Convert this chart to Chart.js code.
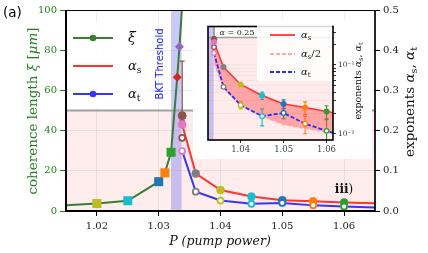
<!DOCTYPE html>
<html>
<head>
<meta charset="utf-8">
<script src="https://cdn.jsdelivr.net/npm/chart.js@4/dist/chart.umd.min.js"></script>
<style>
  body { margin: 0; background: #fff; }
  #wrap { position: relative; width: 428px; height: 253px; }
  #mainChart { position: absolute; left: 0; top: 0; }
  #insetChart { position: absolute; left: 193px; top: 20px; }
</style>
</head>
<body>
<div id="wrap">
  <canvas id="mainChart" width="428" height="253"></canvas>
  <canvas id="insetChart" width="179" height="139"></canvas>
</div>
<script>
// ---- data ----
const xTicks = [1.02, 1.03, 1.04, 1.05, 1.06];
const xiTicks = [0, 20, 40, 60, 80, 100];
const alphaTicks = [0, 0.1, 0.2, 0.3, 0.4, 0.5];
const insetXTicks = [1.04, 1.05, 1.06];
const insetYTicks = [0.01, 0.02, 0.03, 0.04, 0.05, 0.06, 0.07, 0.08, 0.09, 0.1, 0.2, 0.3];

// coherence length xi [um] vs pump power
const xiP = [1.010, 1.020, 1.025, 1.030, 1.031, 1.032, 1.0330, 1.03336, 1.0340];
const xiVal = [2.1, 3.7, 5.1, 14.6, 19.0, 29.2, 66.5, 81.7, 112];

// exponents alpha_s (filled) and alpha_t (open)
const aP = [1.0338, 1.036, 1.040, 1.045, 1.050, 1.055, 1.060, 1.066];
const alphaS = [0.215, 0.093, 0.052, 0.036, 0.027, 0.024, 0.021, 0.0186];
const alphaT = [0.149, 0.048, 0.026, 0.018, 0.020, 0.014, 0.011, 0.0085];
const alphaSErr = [0, 0, 0.002, 0.0045, 0.004, 0.005, 0.0045, 0];
const alphaTErr = [0, 0, 0.003, 0.005, 0.0035, 0.004, 0.005, 0];
const alphaSHalf = alphaS.map(v => v / 2);

// extra estimate right at threshold (brown)
const bP = [1.0338];
const bS = [0.237];
const bSErrUp = [0.136];
const bSErrDown = [0.012];
const bT = [0.182];

const bktBand = [1.032, 1.0337];
const xiLimit = 50;
const alphaLimit = 0.25;

// ---- styles ----
const SERIF = '"DejaVu Serif"';
const SANS = '"DejaVu Sans"';
const GREEN_TXT = '#1f7f1f';
const tab = {
  blue: '#1f77b4', orange: '#ff7f0e', green: '#2ca02c', red: '#d62728', purple: '#9467bd',
  brown: '#8c564b', pink: '#e377c2', gray: '#7f7f7f', olive: '#bcbd22', cyan: '#17becf'
};
const none = 'rgba(0,0,0,0)';
const xiColors = [none, tab.olive, tab.cyan, tab.blue, tab.orange, tab.green, tab.red, tab.purple, none];
const xiStyles = ['circle', 'rect', 'rect', 'rect', 'rect', 'rect', 'rectRot', 'rectRot', 'circle'];
const xiRadius = [0, 6.4, 6.4, 6.4, 6.4, 6.4, 4.5, 4.5, 0];
const aColors = [tab.pink, tab.gray, tab.olive, tab.cyan, tab.blue, tab.orange, tab.green, none];

const pts = (xs, ys) => xs.map((x, i) => ({ x: x, y: ys[i] }));

function runs(ctx, parts, x, y, align) {
  let w = 0;
  parts.forEach(p => { ctx.font = p[1]; w += ctx.measureText(p[0]).width; });
  let cx = align === 'center' ? x - w / 2 : x;
  parts.forEach(p => {
    ctx.font = p[1];
    ctx.fillText(p[0], cx, y + (p[2] || 0));
    cx += ctx.measureText(p[0]).width;
  });
}
function rotRuns(ctx, parts, x, y) {
  ctx.save();
  ctx.translate(x, y);
  ctx.rotate(-Math.PI / 2);
  runs(ctx, parts, 0, 0, 'center');
  ctx.restore();
}

function drawErrorBars(chart, cap, width) {
  const { ctx, chartArea: a } = chart;
  ctx.save();
  ctx.beginPath();
  ctx.rect(a.left, a.top, a.right - a.left, a.bottom - a.top);
  ctx.clip();
  chart.data.datasets.forEach(ds => {
    if (!ds.errUp) return;
    const ys = chart.scales[ds.yAxisID || 'y'];
    ds.data.forEach((p, i) => {
      const up = ds.errUp[i], down = ds.errDown[i];
      if (!up && !down) return;
      const px = chart.scales.x.getPixelForValue(p.x);
      const y1 = ys.getPixelForValue(p.y + up);
      const y0 = ys.getPixelForValue(Math.max(p.y - down, 1e-4));
      ctx.strokeStyle = Array.isArray(ds.pointBorderColor) ? ds.pointBorderColor[i] : ds.pointBorderColor;
      ctx.lineWidth = width;
      ctx.beginPath();
      ctx.moveTo(px, y0); ctx.lineTo(px, y1);
      ctx.moveTo(px - cap, y1); ctx.lineTo(px + cap, y1);
      ctx.moveTo(px - cap, y0); ctx.lineTo(px + cap, y0);
      ctx.stroke();
    });
  });
  ctx.restore();
}

// ---- main chart ----
const mainDecor = {
  id: 'mainDecor',
  beforeDraw(chart) {
    const { ctx, chartArea: a, scales } = chart;
    ctx.save();
    ctx.fillStyle = '#fff';
    ctx.fillRect(0, 0, chart.width, chart.height);
    const yl = scales.yXi.getPixelForValue(xiLimit);
    ctx.fillStyle = 'rgba(255,0,0,0.07)';
    ctx.fillRect(a.left, yl, a.right - a.left, a.bottom - yl);
    ctx.restore();
  },
  beforeDatasetsDraw(chart) {
    const { ctx, chartArea: a, scales } = chart;
    ctx.save();
    const b0 = scales.x.getPixelForValue(bktBand[0]);
    const b1 = scales.x.getPixelForValue(bktBand[1]);
    ctx.fillStyle = 'rgba(100,100,240,0.35)';
    ctx.fillRect(b0, a.top, b1 - b0, a.bottom - a.top);
    const yl = scales.yXi.getPixelForValue(xiLimit);
    ctx.strokeStyle = '#a0a0a0';
    ctx.lineWidth = 2.2;
    ctx.beginPath();
    ctx.moveTo(a.left, yl); ctx.lineTo(a.right, yl);
    ctx.stroke();
    ctx.restore();
    drawErrorBars(chart, 2.5, 1.3);
  },
  afterDatasetsDraw(chart) {
    const { ctx, chartArea: a } = chart;
    ctx.save();
    ctx.strokeStyle = '#000';
    ctx.lineWidth = 1;
    ctx.beginPath(); ctx.moveTo(a.left, a.top + 0.5); ctx.lineTo(a.right, a.top + 0.5); ctx.stroke();
    ctx.lineWidth = 2;
    ctx.beginPath(); ctx.moveTo(a.left, a.top); ctx.lineTo(a.left, a.bottom); ctx.lineTo(a.right, a.bottom); ctx.stroke();
    ctx.lineWidth = 1.7;
    ctx.beginPath(); ctx.moveTo(a.right, a.top); ctx.lineTo(a.right, a.bottom); ctx.stroke();
    ctx.restore();
  },
  afterDraw(chart) {
    const { ctx } = chart;
    ctx.save();
    ctx.textBaseline = 'alphabetic';
    // panel label
    ctx.fillStyle = '#000';
    ctx.font = '13.5px ' + SANS;
    ctx.fillText('(a)', 3, 17);
    // axis titles
    ctx.fillStyle = GREEN_TXT;
    rotRuns(ctx, [
      ['coherence length ', '13.5px ' + SERIF],
      ['ξ', 'italic 13.5px ' + SERIF],
      [' [', '13.5px ' + SERIF],
      ['μm', 'italic 13.5px ' + SERIF],
      [']', '13.5px ' + SERIF]
    ], 37, 111);
    ctx.fillStyle = '#111';
    rotRuns(ctx, [
      ['exponents ', '13.5px ' + SERIF],
      ['α', 'italic 13.5px ' + SERIF],
      ['s', '9.5px ' + SERIF, 3],
      [', ', '13.5px ' + SERIF],
      ['α', 'italic 13.5px ' + SERIF],
      ['t', '9.5px ' + SERIF, 3]
    ], 414, 102);
    runs(ctx, [['P', 'italic 12.5px ' + SERIF], [' (pump power)', 'italic 12.5px ' + SERIF]], 220, 245, 'center');
    // BKT label
    ctx.fillStyle = '#2020ff';
    rotRuns(ctx, [['BKT Threshold', '10px ' + SANS]], 163, 64);
    // regime label
    ctx.fillStyle = '#111';
    runs(ctx, [['iii', 'bold 12px ' + SERIF], [')', '12px ' + SERIF]], 344, 193, 'center');
    // legend
    ctx.fillStyle = 'rgba(255,255,255,0.85)';
    ctx.fillRect(68, 22, 82, 86);
    const leg = [
      { y: 38, c: '#3a7e33', dot: true, lab: [['ξ', 'italic 14px ' + SERIF]] },
      { y: 66, c: '#ff3333', dot: false, lab: [['α', 'italic 13px ' + SERIF], ['s', '9px ' + SERIF, 3]] },
      { y: 94, c: '#3535ff', dot: true, lab: [['α', 'italic 13px ' + SERIF], ['t', '9px ' + SERIF, 3]] }
    ];
    leg.forEach(e => {
      ctx.strokeStyle = e.c; ctx.lineWidth = 2.2;
      ctx.beginPath(); ctx.moveTo(73, e.y); ctx.lineTo(113, e.y); ctx.stroke();
      if (e.dot) {
        ctx.fillStyle = e.c;
        ctx.beginPath(); ctx.arc(93, e.y, 3.3, 0, Math.PI * 2); ctx.fill();
      }
      ctx.fillStyle = '#111';
      runs(ctx, e.lab, 128, e.y + 4, 'left');
    });
    ctx.restore();
  }
};

new Chart(document.getElementById('mainChart').getContext('2d'), {
  type: 'line',
  data: {
    datasets: [
      {
        data: pts(aP, alphaT), yAxisID: 'yA', showLine: false, order: 1,
        pointRadius: aColors.map(c => c === none ? 0 : 3), pointBackgroundColor: '#fff',
        pointBorderColor: aColors, pointBorderWidth: 1.8,
        errUp: alphaTErr, errDown: alphaTErr
      },
      {
        data: pts(aP, alphaS), yAxisID: 'yA', showLine: false, order: 2,
        pointRadius: aColors.map(c => c === none ? 0 : 4), pointBackgroundColor: aColors,
        pointBorderColor: aColors, pointBorderWidth: 0.5,
        errUp: alphaSErr, errDown: alphaSErr
      },
      {
        data: pts(bP, bT), yAxisID: 'yA', showLine: false, order: 3,
        pointRadius: 3, pointBackgroundColor: '#fff', pointBorderColor: tab.brown, pointBorderWidth: 1.8
      },
      {
        data: pts(bP, bS), yAxisID: 'yA', showLine: false, order: 4,
        pointRadius: 4, pointBackgroundColor: tab.brown, pointBorderColor: tab.brown,
        errUp: bSErrUp, errDown: bSErrDown
      },
      { data: pts(aP, alphaT), yAxisID: 'yA', order: 5, borderColor: '#3535ff', borderWidth: 2, pointRadius: 0 },
      { data: pts(aP, alphaS), yAxisID: 'yA', order: 6, borderColor: '#ff3333', borderWidth: 2, pointRadius: 0 },
      {
        data: pts(xiP, xiVal), yAxisID: 'yXi', order: 7,
        borderColor: '#3a7e33', borderWidth: 2,
        pointStyle: xiStyles, pointRadius: xiRadius,
        pointBackgroundColor: xiColors, pointBorderColor: xiColors, pointBorderWidth: 0
      }
    ]
  },
  options: {
    responsive: false,
    animation: false,
    events: [],
    layout: { padding: { top: 10, left: 0, right: 0, bottom: 0 }, autoPadding: false },
    plugins: { legend: { display: false }, tooltip: { enabled: false } },
    scales: {
      x: {
        type: 'linear', min: 1.015, max: 1.065, position: 'bottom',
        afterFit: s => { s.height = 42; },
        afterBuildTicks: s => { s.ticks = xTicks.map(v => ({ value: v })); },
        ticks: { font: { family: SERIF, size: 10 }, color: '#222', padding: 4, maxRotation: 0, autoSkip: false,
                 callback: v => v.toFixed(2) },
        grid: { color: 'rgba(0,0,0,0.07)', tickColor: '#000', tickLength: 5 },
        border: { display: false }
      },
      yXi: {
        type: 'linear', min: 0, max: 100, position: 'left',
        afterFit: s => { s.width = 66; },
        afterBuildTicks: s => { s.ticks = xiTicks.map(v => ({ value: v })); },
        ticks: { font: { family: SERIF, size: 10 }, color: GREEN_TXT, padding: 3 },
        grid: { color: 'rgba(0,0,0,0.07)', tickColor: GREEN_TXT, tickLength: 6 },
        border: { display: false }
      },
      yA: {
        type: 'linear', min: 0, max: 0.5, position: 'right',
        afterFit: s => { s.width = 53; },
        afterBuildTicks: s => { s.ticks = alphaTicks.map(v => ({ value: v })); },
        ticks: { font: { family: SERIF, size: 10 }, color: '#222', padding: 3, callback: v => v.toFixed(1) },
        grid: { drawOnChartArea: false, tickColor: '#000', tickLength: 5 },
        border: { display: false }
      }
    }
  },
  plugins: [mainDecor]
});

// ---- inset (log scale) ----
const insetDecor = {
  id: 'insetDecor',
  beforeDraw(chart) {
    const { ctx, chartArea: a, scales } = chart;
    ctx.save();
    ctx.fillStyle = '#fff';
    ctx.fillRect(0, 0, chart.width, chart.height);
    const yl = scales.y.getPixelForValue(alphaLimit);
    ctx.fillStyle = 'rgba(255,0,0,0.08)';
    ctx.fillRect(a.left, yl, a.right - a.left, a.bottom - yl);
    const b0 = Math.max(scales.x.getPixelForValue(bktBand[0]), a.left);
    const b1 = scales.x.getPixelForValue(bktBand[1]);
    ctx.fillStyle = 'rgba(100,100,240,0.35)';
    ctx.fillRect(b0, a.top, b1 - b0, a.bottom - a.top);
    ctx.restore();
  },
  beforeDatasetsDraw(chart) {
    const { ctx, chartArea: a, scales } = chart;
    ctx.save();
    const yl = scales.y.getPixelForValue(alphaLimit);
    ctx.strokeStyle = '#a0a0a0';
    ctx.lineWidth = 1.5;
    ctx.beginPath(); ctx.moveTo(a.left, yl); ctx.lineTo(a.right, yl); ctx.stroke();
    ctx.restore();
    drawErrorBars(chart, 2, 1.1);
  },
  afterDatasetsDraw(chart) {
    const { ctx, chartArea: a } = chart;
    ctx.save();
    ctx.strokeStyle = '#000';
    ctx.lineWidth = 1.6;
    ctx.strokeRect(a.left, a.top, a.right - a.left, a.bottom - a.top);
    ctx.restore();
  },
  afterDraw(chart) {
    const { ctx, chartArea: a, scales } = chart;
    ctx.save();
    const yl = scales.y.getPixelForValue(alphaLimit);
    ctx.fillStyle = '#222';
    runs(ctx, [['α', 'italic 8px ' + SERIF], [' = 0.25', '8px ' + SERIF]], a.left + 29, yl - 3, 'center');
    // legend
    ctx.fillStyle = 'rgba(255,255,255,0.85)';
    ctx.fillRect(64, 5, a.right - 64 - 1, 56);
    const leg = [
      { y: 15, c: '#ff3333', dash: [], lab: [['α', 'italic 10px ' + SERIF], ['s', '7px ' + SERIF, 2]] },
      { y: 34, c: '#ffaaaa', dash: [4, 2], lab: [['α', 'italic 10px ' + SERIF], ['s', '7px ' + SERIF, 2], ['/2', '10px ' + SERIF]] },
      { y: 52, c: '#2030ff', dash: [4, 2], lab: [['α', 'italic 10px ' + SERIF], ['t', '7px ' + SERIF, 2]] }
    ];
    leg.forEach(e => {
      ctx.strokeStyle = e.c; ctx.lineWidth = 1.8; ctx.setLineDash(e.dash);
      ctx.beginPath(); ctx.moveTo(77, e.y); ctx.lineTo(102, e.y); ctx.stroke();
      ctx.setLineDash([]);
      ctx.fillStyle = '#222';
      runs(ctx, e.lab, 108, e.y + 3, 'left');
    });
    // y title
    ctx.fillStyle = '#111';
    rotRuns(ctx, [
      ['exponents ', '9.5px ' + SERIF],
      ['α', 'italic 9.5px ' + SERIF],
      ['s', '6.5px ' + SERIF, 2],
      [', ', '9.5px ' + SERIF],
      ['α', 'italic 9.5px ' + SERIF],
      ['t', '6.5px ' + SERIF, 2]
    ], 168, 61);
    ctx.restore();
  }
};

new Chart(document.getElementById('insetChart').getContext('2d'), {
  type: 'line',
  data: {
    datasets: [
      {
        data: pts(aP, alphaT), showLine: false, order: 1,
        pointRadius: aColors.map(c => c === none ? 0 : 2.3), pointBackgroundColor: '#fff',
        pointBorderColor: aColors, pointBorderWidth: 1.3,
        errUp: alphaTErr, errDown: alphaTErr
      },
      {
        data: pts(aP, alphaS), showLine: false, order: 2,
        pointRadius: aColors.map(c => c === none ? 0 : 2.8), pointBackgroundColor: aColors,
        pointBorderColor: aColors, pointBorderWidth: 0.5,
        errUp: alphaSErr, errDown: alphaSErr
      },
      {
        data: pts(bP, bT), showLine: false, order: 3,
        pointRadius: 2.3, pointBackgroundColor: '#fff', pointBorderColor: tab.brown, pointBorderWidth: 1.3
      },
      {
        data: pts(bP, bS), showLine: false, order: 4,
        pointRadius: 2.8, pointBackgroundColor: tab.brown, pointBorderColor: tab.brown,
        errUp: bSErrUp, errDown: bSErrDown
      },
      { data: pts(aP, alphaT), order: 5, borderColor: '#2030ff', borderWidth: 1.8, borderDash: [4, 2], pointRadius: 0 },
      { data: pts(aP, alphaSHalf), order: 6, borderColor: '#ffaaaa', borderWidth: 1.5, borderDash: [4, 2], pointRadius: 0 },
      {
        data: pts(aP, alphaS), order: 7, borderColor: '#ff3333', borderWidth: 1.5, pointRadius: 0,
        fill: { target: 5 }, backgroundColor: 'rgba(255,70,70,0.42)'
      }
    ]
  },
  options: {
    responsive: false,
    animation: false,
    events: [],
    layout: { padding: { top: 2, left: 15, right: 0, bottom: 0 }, autoPadding: false },
    plugins: { legend: { display: false }, tooltip: { enabled: false } },
    scales: {
      x: {
        type: 'linear', min: 1.0324, max: 1.0615, position: 'bottom',
        afterFit: s => { s.height = 19; },
        afterBuildTicks: s => { s.ticks = insetXTicks.map(v => ({ value: v })); },
        ticks: { font: { family: SERIF, size: 8.5 }, color: '#444', padding: 2, maxRotation: 0, autoSkip: false,
                 callback: v => v.toFixed(2) },
        grid: { drawOnChartArea: false, tickColor: '#333', tickLength: 3 },
        border: { display: false }
      },
      y: {
        type: 'logarithmic', min: 0.0081, max: 0.362, position: 'right',
        afterFit: s => { s.width = 39; },
        afterBuildTicks: s => { s.ticks = insetYTicks.map(v => ({ value: v })); },
        ticks: { font: { family: SERIF, size: 7.5 }, color: '#333', padding: 2, autoSkip: false,
                 callback: v => v === 0.1 ? '10⁻¹' : (v === 0.01 ? '10⁻²' : '') },
        grid: { color: 'rgba(0,0,0,0.04)', tickColor: '#333', tickLength: 3 },
        border: { display: false }
      }
    }
  },
  plugins: [insetDecor]
});
</script>
</body>
</html>
